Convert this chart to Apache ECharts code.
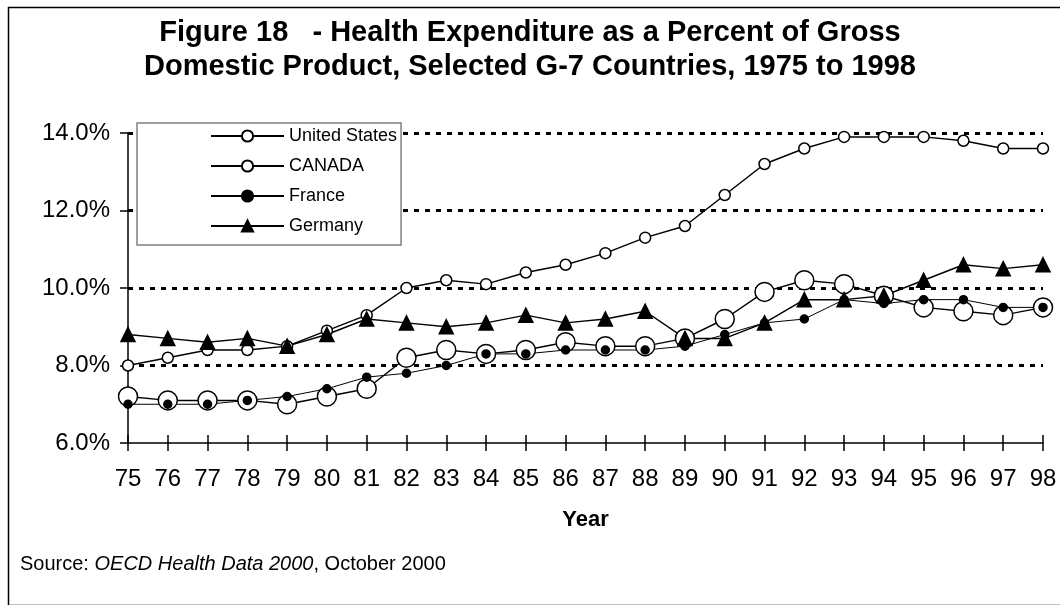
<!DOCTYPE html>
<html>
<head>
<meta charset="utf-8">
<style>
  html, body { margin: 0; padding: 0; background: #fff; }
  #chart { width: 1060px; height: 605px; }
</style>
<script src="https://cdn.jsdelivr.net/npm/echarts@6/dist/echarts.min.js"></script>
</head>
<body>
<div id="chart"></div>
<script>
const years = ['75','76','77','78','79','80','81','82','83','84','85','86','87','88','89','90','91','92','93','94','95','96','97','98'];
const unitedStates = [8.0, 8.2, 8.4, 8.4, 8.5, 8.9, 9.3, 10.0, 10.2, 10.1, 10.4, 10.6, 10.9, 11.3, 11.6, 12.4, 13.2, 13.6, 13.9, 13.9, 13.9, 13.8, 13.6, 13.6];
const canada = [7.2, 7.1, 7.1, 7.1, 7.0, 7.2, 7.4, 8.2, 8.4, 8.3, 8.4, 8.6, 8.5, 8.5, 8.7, 9.2, 9.9, 10.2, 10.1, 9.8, 9.5, 9.4, 9.3, 9.5];
const france = [7.0, 7.0, 7.0, 7.1, 7.2, 7.4, 7.7, 7.8, 8.0, 8.3, 8.3, 8.4, 8.4, 8.4, 8.5, 8.8, 9.1, 9.2, 9.7, 9.6, 9.7, 9.7, 9.5, 9.5];
const germany = [8.8, 8.7, 8.6, 8.7, 8.5, 8.8, 9.2, 9.1, 9.0, 9.1, 9.3, 9.1, 9.2, 9.4, 8.7, 8.7, 9.1, 9.7, 9.7, 9.8, 10.2, 10.6, 10.5, 10.6];
const yTicks = [6, 8, 10, 12, 14];
const titleLines = ['Figure 18   - Health Expenditure as a Percent of Gross', 'Domestic Product, Selected G-7 Countries, 1975 to 1998'];

const FONT = '"Liberation Sans", Arial, Helvetica, sans-serif';
const chart = echarts.init(document.getElementById('chart'), null, { renderer: 'canvas' });

function lineSeries(name, data, symbol, size, fill, lw) {
  return {
    name: name, type: 'line', data: data, xAxisIndex: 0,
    symbol: symbol, symbolSize: size, showAllSymbol: true,
    lineStyle: { color: '#000', width: lw },
    itemStyle: { color: fill, borderColor: '#000', borderWidth: 1.5 },
    emphasis: { disabled: true },
    animation: false
  };
}

const titleStyle = { fontFamily: FONT, fontSize: 29, fontWeight: 'bold', color: '#000' };

chart.setOption({
  backgroundColor: '#fff',
  animation: false,
  textStyle: { fontFamily: FONT },
  title: [
    { text: titleLines[0], left: 'center', top: 13, textStyle: titleStyle },
    { text: titleLines[1], left: 'center', top: 47, textStyle: titleStyle }
  ],
  legend: {
    orient: 'vertical',
    left: 137, top: 123,
    padding: [2, 4, 8, 73],
    itemWidth: 73, itemHeight: 14, itemGap: 8,
    backgroundColor: '#fff',
    borderColor: '#808080', borderWidth: 1.5,
    textStyle: { fontFamily: FONT, fontSize: 18, color: '#000', lineHeight: 22 },
    data: ['United States', 'CANADA', 'France', 'Germany']
  },
  grid: { left: 128, right: 17, top: 133, bottom: 162, containLabel: false },
  xAxis: [
    {
      type: 'category', data: years, boundaryGap: false,
      name: 'Year', nameLocation: 'middle', nameGap: 66,
      nameTextStyle: { fontFamily: FONT, fontSize: 22, fontWeight: 'bold', color: '#000' },
      axisLine: { lineStyle: { color: '#000', width: 1.5 } },
      axisTick: { show: true, inside: false, length: 8, alignWithLabel: true, lineStyle: { color: '#000', width: 1.5 } },
      axisLabel: { fontFamily: FONT, fontSize: 24, color: '#000', margin: 24, interval: 0 },
      splitLine: { show: false }
    },
    {
      type: 'category', data: years, boundaryGap: false, position: 'bottom',
      axisLine: { show: false },
      axisTick: { show: true, inside: true, length: 8, lineStyle: { color: '#000', width: 1.5 } },
      axisLabel: { show: false },
      splitLine: { show: false }
    }
  ],
  yAxis: {
    type: 'value', min: yTicks[0], max: yTicks[yTicks.length - 1], interval: 2,
    axisLine: { show: true, lineStyle: { color: '#000', width: 1.5 } },
    axisTick: { show: true, inside: false, length: 8, lineStyle: { color: '#000', width: 1.5 } },
    axisLabel: { fontFamily: FONT, fontSize: 24, color: '#000', margin: 18, formatter: v => v.toFixed(1) + '%' },
    splitLine: { show: true, showMinLine: false, lineStyle: { color: '#000', width: 3, type: [5, 6] } }
  },
  graphic: [
    {
      type: 'rect', left: 6, top: 5, z: -10, silent: true,
      shape: { x: 0, y: 0, width: 1070, height: 598 },
      style: { fill: 'none', stroke: '#000', lineWidth: 1.5 }
    },
    {
      type: 'text', left: 20, top: 554, silent: true,
      style: {
        text: '{a|Source: }{b|OECD Health Data 2000}{a|, October 2000}',
        rich: {
          a: { fontFamily: FONT, fontSize: 20, fill: '#000' },
          b: { fontFamily: FONT, fontSize: 20, fontStyle: 'italic', fill: '#000' }
        }
      }
    }
  ],
  series: [
    lineSeries('United States', unitedStates, 'circle', 11, '#fff', 1.5),
    lineSeries('CANADA', canada, 'circle', 19, '#fff', 1.5),
    lineSeries('France', france, 'circle', 8, '#000', 1),
    lineSeries('Germany', germany, 'triangle', 14, '#000', 1.5)
  ]
});
</script>
</body>
</html>
